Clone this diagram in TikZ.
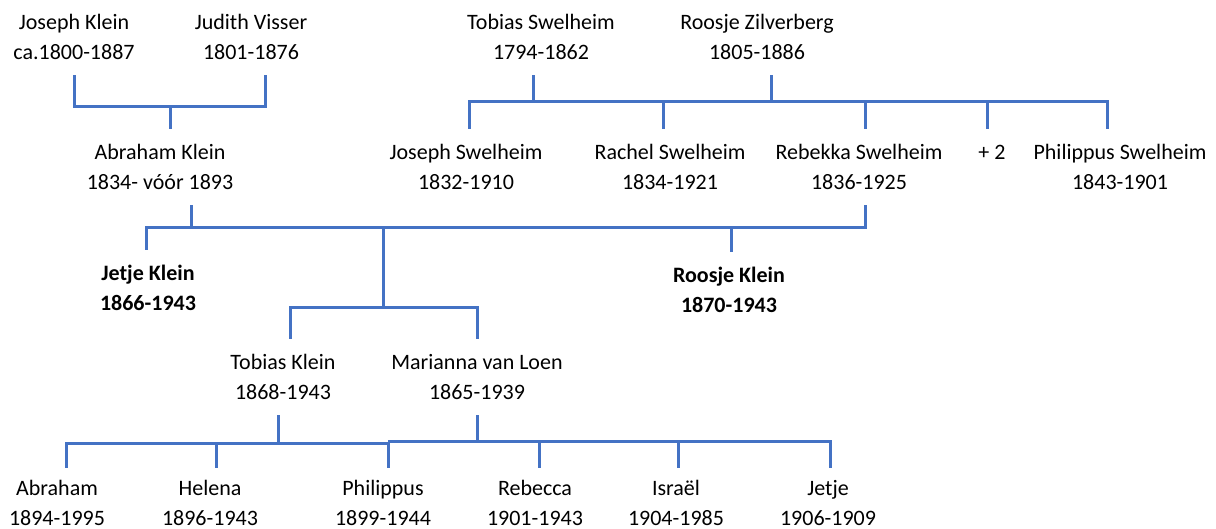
\documentclass[tikz,border=0pt]{standalone}
\usepackage{fontspec}
\setmainfont{Carlito}
\definecolor{treeblue}{RGB}{68,114,196}
\usetikzlibrary{calc}

\begin{document}
\begin{tikzpicture}[x=0.5pt, y=-0.5pt,
    person/.style={align=center, inner sep=0pt, minimum height=38pt, font=\fontsize{11}{15}\selectfont},
    boldperson/.style={person, font=\fontsize{11}{15}\selectfont\bfseries},
    famline/.style={treeblue, line width=1.5pt}]
    \useasboundingbox (0,0) rectangle (1216,529);

    % Grandparents
    \node[person] (jk) at (74,37) {Joseph Klein\\ca.1800-1887};
    \node[person] (jv) at (251,37) {Judith Visser\\1801-1876};
    \node[person] (ts) at (541,37) {Tobias Swelheim\\1794-1862};
    \node[person] (rz) at (757,37) {Roosje Zilverberg\\1805-1886};

    % Parents and Swelheim siblings
    \node[person] (ak) at (160,167) {Abraham Klein\\1834- vóór 1893};
    \node[person] (js) at (466,167) {Joseph Swelheim\\1832-1910};
    \node[person] (rs) at (670,167) {Rachel Swelheim\\1834-1921};
    \node[person] (rb) at (859,167) {Rebekka Swelheim\\1836-1925};
    \node[person] (plus) at (992,152) {+ 2};
    \node[person] (ps) at (1120,167) {Philippus Swelheim\\1843-1901};

    % Children of Abraham and Rebekka
    \node[boldperson] (jtk) at (148,288) {Jetje Klein\\1866-1943};
    \node[boldperson] (rk) at (729,290) {Roosje Klein\\1870-1943};
    \node[person] (tk) at (283,377) {Tobias Klein\\1868-1943};
    \node[person] (ml) at (477,377) {Marianna van Loen\\1865-1939};

    % Grandchildren
    \node[person] (ab) at (57,503) {Abraham\\1894-1995};
    \node[person] (he) at (210,503) {Helena\\1896-1943};
    \node[person] (ph) at (383,503) {Philippus\\1899-1944};
    \node[person] (re) at (535,503) {Rebecca\\1901-1943};
    \node[person] (is) at (676,503) {Israël\\1904-1985};
    \node[person] (jt) at (828,503) {Jetje\\1906-1909};

    % Klein bar
    \coordinate (kleinbar) at (170,107);
    \draw[famline] (jk.south) |- (kleinbar) -| ([xshift=7pt]jv.south);
    \draw[famline] (kleinbar) -- ([xshift=5pt]ak.north);

    % Swelheim bar
    \coordinate (swbar) at (533,102);
    \draw[famline] ([xshift=1.5pt]js.north) |- (swbar) -| ([xshift=-6.5pt]ps.north);
    \draw[famline] ([xshift=-4pt]ts.south) -- (swbar);
    \draw[famline] ([xshift=7pt]rz.south) -- ([xshift=7pt]rz.south |- swbar);
    \draw[famline] ([xshift=-3.5pt]rs.north) -- ([xshift=-3.5pt]rs.north |- swbar);
    \draw[famline] ([xshift=3pt]rb.north) -- ([xshift=3pt]rb.north |- swbar);
    \draw[famline] ([xshift=-2.5pt,yshift=-7.5pt]plus.north) -- ([xshift=-2.5pt]plus.north |- swbar);

    % Children bar
    \coordinate (kidsbar) at (191,228);
    \draw[famline] ([xshift=-1pt]jtk.north) |- (kidsbar) -| ([xshift=3pt]rb.south);
    \draw[famline] ([xshift=15.5pt]ak.south) -- (kidsbar);
    \draw[famline] ([xshift=1pt]rk.north) -- ([xshift=1pt]rk.north |- kidsbar);
    \coordinate (tmbar) at (383,308);
    \draw[famline] (tmbar |- kidsbar) -- (tmbar);
    \draw[famline] ([xshift=3.5pt]tk.north) |- (tmbar) -| (ml.north);

    % Grandchildren bars
    \coordinate (tkbar) at (278,443);
    \coordinate (mlbar) at (477,441);
    \draw[famline] ([xshift=-2.5pt]tk.south) -- (tkbar);
    \draw[famline] ([xshift=4.5pt,yshift=-1.5pt]ab.north) |- (tkbar) -| ([xshift=2.5pt,yshift=-1.5pt]ph.north);
    \draw[famline] ([xshift=3pt,yshift=-1.5pt]he.north) -- ([xshift=3pt]he.north |- tkbar);
    \draw[famline] (ml.south) -- (mlbar);
    \draw[famline] ([xshift=2.5pt]ph.north |- mlbar) -| ([xshift=1pt,yshift=-1.5pt]jt.north);
    \draw[famline] ([xshift=2pt,yshift=-1.5pt]re.north) -- ([xshift=2pt]re.north |- mlbar);
    \draw[famline] ([xshift=1pt,yshift=-1.5pt]is.north) -- ([xshift=1pt]is.north |- mlbar);
\end{tikzpicture}
\end{document}
